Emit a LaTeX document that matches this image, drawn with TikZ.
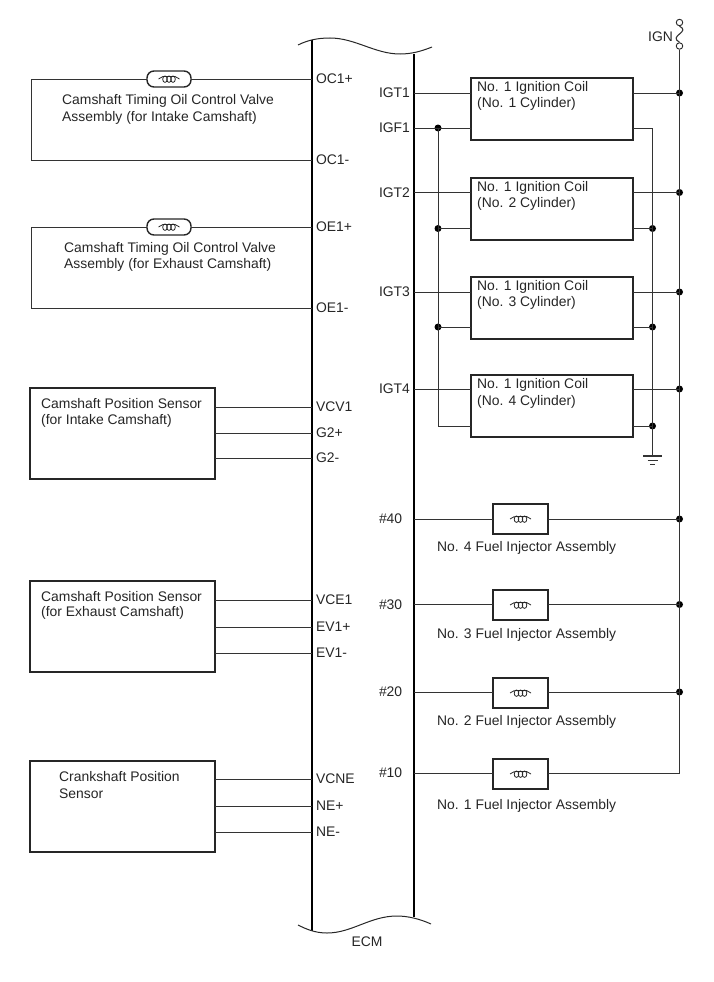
\documentclass[tikz,border=0pt]{standalone}
\usepackage{fontspec}
\setmainfont{Liberation Sans}
\begin{document}
\begin{tikzpicture}
        [x=1pt,y=-1pt,
        wire/.style={color=black!80, line width=0.9pt},
        ecmBar/.style={color=black, line width=2.2pt},
        ecmEdge/.style={color=black!85, line width=1pt},
        label/.style={font=\fontsize{13.9pt}{15pt}\selectfont, color=black!85, inner sep=0pt, anchor=west, yshift=-0.8pt},
        pinL/.style={font=\fontsize{13.9pt}{15pt}\selectfont, color=black!85, inner xsep=4pt, inner ysep=0pt, outer sep=0pt, anchor=west},
        pinR/.style={font=\fontsize{13.9pt}{15pt}\selectfont, color=black!85, inner xsep=4pt, inner ysep=0pt, outer sep=0pt, text width=31pt, anchor=east},
        sensorBox/.style={draw=black!85, line width=1.6pt, fill=white, minimum width=185pt, minimum height=91pt, inner sep=0pt, outer sep=0pt},
        coilBox/.style={draw=black!85, line width=1.6pt, fill=white, minimum width=162pt, minimum height=62pt, inner sep=0pt, outer sep=0pt},
        injBox/.style={draw=black!85, line width=1.6pt, fill=white, minimum width=55pt, minimum height=30pt, inner sep=0pt, outer sep=0pt},
        valve/.style={draw=black!85, line width=1.4pt, fill=white, rounded corners=7pt, minimum width=44pt, minimum height=16pt, inner sep=0pt, outer sep=0pt},
        vertex/.style={circle, fill=black, inner sep=0pt, minimum size=7pt},
        terminal/.style={circle, draw=black!85, line width=0.9pt, fill=white, inner sep=0pt, minimum size=6.5pt},
        winding/.pic={
            \draw[black!85, line width=0.8pt] (-10.5,0) .. controls (-9,-1) and (-8,-2) .. (-6,-2.5);
            \draw[black!85, line width=0.8pt] (10.5,0) .. controls (9,-1) and (8,-2) .. (6,-2.5);
            \draw[black!85, line width=0.8pt] (-6,-2.5) -- (6,-2.5);
            \draw[black!85, line width=0.8pt] (-4,0.2) ellipse (2.3pt and 3.2pt);
            \draw[black!85, line width=0.8pt] (0,0.2) ellipse (2.3pt and 3.2pt);
            \draw[black!85, line width=0.8pt] (4,0.2) ellipse (2.3pt and 3.2pt);
        }]
\useasboundingbox (0,0) rectangle (713,982);
%%
%% The ECM
%%
\coordinate (ecmLT) at (312,40);
\coordinate (ecmLB) at (312,931);
\coordinate (ecmRT) at (414,54);
\coordinate (ecmRB) at (414,917);
\draw[ecmBar] (ecmLT) -- (ecmLB);
\draw[ecmBar] (ecmRT) -- (ecmRB);
\draw[ecmEdge] (298,45) .. controls (308,40) and (318,38) .. (330,38) .. controls (355,38) and (375,54) .. (400,54) .. controls (412,54) and (422,51) .. (432,47);
\draw[ecmEdge] (298,925) .. controls (306,929) and (315,933) .. (327,933) .. controls (352,933) and (370,916) .. (397,916) .. controls (408,916) and (420,919) .. (431,924);
\node[label, anchor=center] (ecmName) at (367,941) {ECM};
%%
%% Pins on the left side
%%
\node[pinL] (OC1p) at (312,79) {OC1+};
\node[pinL] (OC1m) at (312,160) {OC1-};
\node[pinL] (OE1p) at (312,227) {OE1+};
\node[pinL] (OE1m) at (312,308) {OE1-};
\node[pinL] (VCV1) at (312,407) {VCV1};
\node[pinL] (G2p) at (312,433) {G2+};
\node[pinL] (G2m) at (312,458) {G2-};
\node[pinL] (VCE1) at (312,600) {VCE1};
\node[pinL] (EV1p) at (312,627) {EV1+};
\node[pinL] (EV1m) at (312,653) {EV1-};
\node[pinL] (VCNE) at (312,779) {VCNE};
\node[pinL] (NEp) at (312,806) {NE+};
\node[pinL] (NEm) at (312,832) {NE-};
%%
%% Pins on the right side
%%
\node[pinR] (IGT1) at (414,93) {IGT1};
\node[pinR] (IGF1) at (414,128) {IGF1};
\node[pinR] (IGT2) at (414,192.5) {IGT2};
\node[pinR] (IGT3) at (414,292) {IGT3};
\node[pinR] (IGT4) at (414,389) {IGT4};
\node[pinR] (no40) at (414,519) {\#40};
\node[pinR] (no30) at (414,604.5) {\#30};
\node[pinR] (no20) at (414,692) {\#20};
\node[pinR] (no10) at (414,773) {\#10};
%%
%% Oil control valves
%%
\node[valve] (valveC) at (169,79) {};
\pic at (valveC.center) {winding};
\node[valve] (valveE) at (169,227) {};
\pic at (valveE.center) {winding};
\coordinate (cornerC) at (31,79);
\coordinate (cornerE) at (31,227);
\draw[wire] (OC1p.west) -- (valveC.east);
\draw[wire] (valveC.west) -- (cornerC) |- (OC1m.west);
\draw[wire] (OE1p.west) -- (valveE.east);
\draw[wire] (valveE.west) -- (cornerE) |- (OE1m.west);
\node[label] (valveCa) at (62,100.5) {Camshaft Timing Oil Control Valve};
\node[label] (valveCb) at (62,117) {Assembly (for Intake Camshaft)};
\node[label] (valveEa) at (64,248) {Camshaft Timing Oil Control Valve};
\node[label] (valveEb) at (64,264) {Assembly (for Exhaust Camshaft)};
%%
%% Position sensors
%%
\node[sensorBox] (sensorI) at (122.5,433.5) {};
\node[sensorBox] (sensorE) at (122.5,626.5) {};
\node[sensorBox] (sensorN) at (122.5,806.5) {};
\draw[wire] (VCV1.west) -- (VCV1.west -| sensorI.east);
\draw[wire] (G2p.west) -- (G2p.west -| sensorI.east);
\draw[wire] (G2m.west) -- (G2m.west -| sensorI.east);
\draw[wire] (VCE1.west) -- (VCE1.west -| sensorE.east);
\draw[wire] (EV1p.west) -- (EV1p.west -| sensorE.east);
\draw[wire] (EV1m.west) -- (EV1m.west -| sensorE.east);
\draw[wire] (VCNE.west) -- (VCNE.west -| sensorN.east);
\draw[wire] (NEp.west) -- (NEp.west -| sensorN.east);
\draw[wire] (NEm.west) -- (NEm.west -| sensorN.east);
\node[label] (sensorIa) at (41,403) {Camshaft Position Sensor};
\node[label] (sensorIb) at (41,420) {(for Intake Camshaft)};
\node[label] (sensorEa) at (41,596) {Camshaft Position Sensor};
\node[label] (sensorEb) at (41,612) {(for Exhaust Camshaft)};
\node[label] (sensorNa) at (59,776) {Crankshaft Position};
\node[label] (sensorNb) at (59,793) {Sensor};
%%
%% Ignition coils
%%
\node[coilBox] (coil1) at (552,109) {};
\node[coilBox] (coil2) at (552,209) {};
\node[coilBox] (coil3) at (552,308) {};
\node[coilBox] (coil4) at (552,406) {};
\node[label] (coil1a) at (477,87.5) {No. 1 Ignition Coil};
\node[label] (coil1b) at (477,103.5) {(No. 1 Cylinder)};
\node[label] (coil2a) at (477,187.5) {No. 1 Ignition Coil};
\node[label] (coil2b) at (477,203.5) {(No. 2 Cylinder)};
\node[label] (coil3a) at (477,286.5) {No. 1 Ignition Coil};
\node[label] (coil3b) at (477,302.5) {(No. 3 Cylinder)};
\node[label] (coil4a) at (477,384.5) {No. 1 Ignition Coil};
\node[label] (coil4b) at (477,401.5) {(No. 4 Cylinder)};
%%
%% Junctions
%%
\node[vertex] (igf1) at (438,128) {};
\node[vertex] (igf2) at (438,228.5) {};
\node[vertex] (igf3) at (438,327) {};
\coordinate (igf4) at (438,426);
\coordinate (gnd1) at (652.5,128);
\node[vertex] (gnd2) at (652.5,228.5) {};
\node[vertex] (gnd3) at (652.5,327) {};
\node[vertex] (gnd4) at (652.5,426) {};
\coordinate (gnd) at (652.5,456);
\node[vertex] (bus1) at (679.5,93) {};
\node[vertex] (bus2) at (679.5,192.5) {};
\node[vertex] (bus3) at (679.5,292) {};
\node[vertex] (bus4) at (679.5,389) {};
\node[vertex] (bus40) at (679.5,519) {};
\node[vertex] (bus30) at (679.5,604.5) {};
\node[vertex] (bus20) at (679.5,692) {};
\coordinate (bus10) at (679.5,773);
%%
%% Coil wiring
%%
\draw[wire] (IGT1.east) -- (IGT1.east -| coil1.west);
\draw[wire] (IGT2.east) -- (IGT2.east -| coil2.west);
\draw[wire] (IGT3.east) -- (IGT3.east -| coil3.west);
\draw[wire] (IGT4.east) -- (IGT4.east -| coil4.west);
\draw[wire] (IGF1.east) -- (igf1 -| coil1.west);
\draw[wire] (igf2.center) -- (igf2 -| coil2.west);
\draw[wire] (igf3.center) -- (igf3 -| coil3.west);
\draw[wire] (igf4) -- (igf4 -| coil4.west);
\draw[wire] (igf1.center) -- (igf4);
\draw[wire] (bus1.center) -- (bus1 -| coil1.east);
\draw[wire] (bus2.center) -- (bus2 -| coil2.east);
\draw[wire] (bus3.center) -- (bus3 -| coil3.east);
\draw[wire] (bus4.center) -- (bus4 -| coil4.east);
\draw[wire] (gnd1) -- (gnd1 -| coil1.east);
\draw[wire] (gnd2.center) -- (gnd2 -| coil2.east);
\draw[wire] (gnd3.center) -- (gnd3 -| coil3.east);
\draw[wire] (gnd4.center) -- (gnd4 -| coil4.east);
\draw[wire] (gnd1) -- (gnd);
%%
%% Ground
%%
\draw[wire, line width=1.1pt] (643,456) -- (661.5,456);
\draw[wire] (647.5,460) -- (657.5,460);
\draw[wire] (650,464) -- (655,464);
%%
%% Fuel injectors
%%
\node[injBox] (inj40) at (520.5,519) {};
\node[injBox] (inj30) at (520.5,605) {};
\node[injBox] (inj20) at (520.5,693) {};
\node[injBox] (inj10) at (520.5,774) {};
\pic at (inj40.center) {winding};
\pic at (inj30.center) {winding};
\pic at (inj20.center) {winding};
\pic at (inj10.center) {winding};
\draw[wire] (no40.east) -- (no40.east -| inj40.west);
\draw[wire] (no30.east) -- (no30.east -| inj30.west);
\draw[wire] (no20.east) -- (no20.east -| inj20.west);
\draw[wire] (no10.east) -- (no10.east -| inj10.west);
\draw[wire] (bus40.center) -- (bus40 -| inj40.east);
\draw[wire] (bus30.center) -- (bus30 -| inj30.east);
\draw[wire] (bus20.center) -- (bus20 -| inj20.east);
\draw[wire] (bus10) -- (bus10 -| inj10.east);
\node[label] (inj40a) at (437,547) {No. 4 Fuel Injector Assembly};
\node[label] (inj30a) at (437,634) {No. 3 Fuel Injector Assembly};
\node[label] (inj20a) at (437,721) {No. 2 Fuel Injector Assembly};
\node[label] (inj10a) at (437,805.5) {No. 1 Fuel Injector Assembly};
%%
%% IGN bus and fuse
%%
\node[terminal] (ignT) at (679.5,22.5) {};
\node[terminal] (ignB) at (679.5,46) {};
\draw[wire, line width=1.1pt] (ignT.south) .. controls (685,29) and (683,31) .. (679.5,34) .. controls (676,37) and (674,39) .. (ignB.north);
\draw[wire] (ignB.south) -- (bus10);
\node[label] (ignName) at (648,36) {IGN};

\end{tikzpicture}
\end{document}
